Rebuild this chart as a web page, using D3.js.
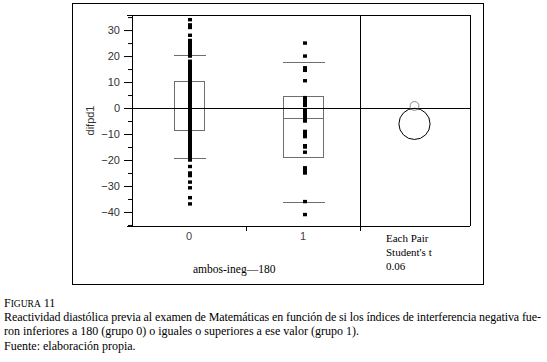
<!DOCTYPE html>
<html>
<head>
<meta charset="utf-8">
<style>
  body { margin: 0; background: #fff; }
  .tick text { font-family: "Liberation Sans", Arial, sans-serif; }
  .serif { font-family: "Liberation Serif", "Times New Roman", serif; fill: #000; }
</style>
</head>
<body>
<svg class="chart"></svg>
<script src="https://d3js.org/d3.v7.min.js"></script>
<script>
// data
const groups = ["0", "1"];
const group0 = [34, 32, 31, 28, 26, 25, 24, 23, 22, 21, 20, 18, 17, 16, 15, 14, 13, 12, 11,
  10, 9, 8, 7, 6, 5, 4, 3, 2, 1, 0, -1, -2, -3, -4, -5, -6, -7, -8, -9, -10, -11, -12,
  -13, -14, -15, -16, -17, -18, -19, -20, -22.5, -25, -26, -28.5, -30.7, -34.5, -36.9];
const group1 = [25, 20, 15.5, 14.5, 10.5, 4, 3, 2, 1, -1, -2, -3, -4, -5, -9, -10, -11,
  -14.5, -15, -17, -23, -24, -25, -36, -41];
const q3 = [10.3, 4.5];
const medians = [0, -4];
const q1 = [-8.7, -19.1];
const whiskerHi = [20.5, 17.6];
const whiskerLo = [-19.2, -36];
const means = [0.8, -6.1];
const circleRadius = [1.7, 6.0];   // in difpd1 units
const yMajor = [-40, -30, -20, -10, 0, 10, 20, 30];
const yMinor = [-45, -35, -25, -15, -5, 5, 15, 25, 35];
const testLines = ["Each Pair", "Student's t", "0.06"];
const captionLines = [
  "Reactividad diastólica previa al examen de Matemáticas en función de si los índices de interferencia negativa fue-",
  "ron inferiores a 180 (grupo 0) o iguales o superiores a ese valor (grupo 1)."
];

const W = 547, H = 362;
const plot = { left: 132, right: 470, top: 15, bottom: 226, split: 360 };
const boxW = [30, 40];
const grey = "#6e6e6e";

const svg = d3.select(".chart").attr("width", W).attr("height", H);

// outer frame
svg.append("rect")
  .attr("x", 72.5).attr("y", 3.5).attr("width", 411).attr("height", 281)
  .attr("fill", "none").attr("stroke", "#000");

const y = d3.scaleLinear().domain([-45.4, 35.8]).range([plot.bottom, plot.top]);
const x = d3.scaleBand().domain(groups).range([plot.left, plot.split]);
const cx = g => x(g) + x.bandwidth() / 2;

// axes
svg.append("g")
  .attr("transform", `translate(${plot.left},0)`)
  .call(d3.axisLeft(y).tickValues(yMinor).tickSize(4).tickSizeOuter(0).tickFormat(""))
  .call(g => g.select(".domain").remove());
const yAx = svg.append("g")
  .attr("transform", `translate(${plot.left},0)`)
  .call(d3.axisLeft(y).tickValues(yMajor).tickSize(8).tickSizeOuter(0).tickPadding(4));
yAx.selectAll("text").attr("font-size", 11).attr("fill", "#333");
yAx.select(".domain").attr("d", `M0.5,${plot.top}V${plot.bottom}`);

const xAx = svg.append("g")
  .attr("transform", `translate(0,${plot.bottom})`)
  .call(d3.axisBottom(x).tickSize(0).tickPadding(6));
xAx.select(".domain").remove();
xAx.selectAll("text").attr("font-size", 11).attr("fill", "#444");

// frame lines of the plot
svg.append("line").attr("x1", 127).attr("x2", plot.right)
  .attr("y1", plot.bottom + 0.5).attr("y2", plot.bottom + 0.5).attr("stroke", "#000");
svg.append("line").attr("x1", 127).attr("x2", plot.right)
  .attr("y1", plot.top + 0.5).attr("y2", plot.top + 0.5).attr("stroke", "#000");
svg.append("line").attr("x1", plot.right + 0.5).attr("x2", plot.right + 0.5)
  .attr("y1", plot.top).attr("y2", plot.bottom).attr("stroke", "#000");
svg.append("line").attr("x1", plot.split + 0.5).attr("x2", plot.split + 0.5)
  .attr("y1", plot.top).attr("y2", plot.bottom + 5).attr("stroke", "#000");
svg.append("line").attr("x1", x("1") + 0.5).attr("x2", x("1") + 0.5)
  .attr("y1", plot.bottom).attr("y2", plot.bottom + 5).attr("stroke", "#000");

// box plots
groups.forEach((g, i) => {
  const c = cx(g), hw = boxW[i] / 2;
  const bg = svg.append("g").attr("fill", "none").attr("stroke", grey);
  bg.append("rect")
    .attr("x", Math.round(c - hw) + 0.5).attr("y", Math.round(y(q3[i])) + 0.5)
    .attr("width", boxW[i]).attr("height", Math.round(y(q1[i]) - y(q3[i])));
  bg.append("line")
    .attr("x1", c - hw).attr("x2", c + hw)
    .attr("y1", Math.round(y(medians[i])) + 0.5).attr("y2", Math.round(y(medians[i])) + 0.5);
  [whiskerHi[i], whiskerLo[i]].forEach(v => bg.append("line")
    .attr("x1", c - hw).attr("x2", c + hw + 2)
    .attr("y1", Math.round(y(v)) + 0.5).attr("y2", Math.round(y(v)) + 0.5));
});

// points
[group0, group1].forEach((vals, i) => {
  const c = cx(groups[i]) + (i === 0 ? 1 : 2);
  svg.append("g").selectAll("rect")
    .data(vals)
    .join("rect")
    .attr("x", c - 2).attr("y", d => y(d) - 1.7)
    .attr("width", 4).attr("height", 3.4)
    .attr("fill", "#000");
});

// zero reference line
svg.append("line").attr("x1", plot.left).attr("x2", plot.right)
  .attr("y1", Math.round(y(0)) + 0.5).attr("y2", Math.round(y(0)) + 0.5)
  .attr("stroke", "#000");

// comparison circles
const ccx = (plot.split + plot.right) / 2 - 0.5;
svg.append("g").selectAll("circle")
  .data(means)
  .join("circle")
  .attr("cx", ccx)
  .attr("cy", d => y(d))
  .attr("r", (d, i) => y(0) - y(circleRadius[i]))
  .attr("fill", "none")
  .attr("stroke", (d, i) => i === 0 ? "#888" : "#000");

// texts
svg.append("text")
  .attr("transform", `translate(94,${(plot.top + plot.bottom) / 2}) rotate(-90)`)
  .attr("text-anchor", "middle").attr("font-size", 11)
  .style("font-family", "Liberation Sans, Arial, sans-serif").attr("fill", "#333")
  .text("difpd1");

svg.append("text").attr("class", "serif")
  .attr("x", 193).attr("y", 273).attr("font-size", 11.5)
  .text("ambos-ineg\u2014180");

svg.append("g").selectAll("text")
  .data(testLines)
  .join("text").attr("class", "serif")
  .attr("x", 386).attr("y", (d, i) => 242 + i * 14).attr("font-size", 11)
  .text(d => d);

// caption
const cap = svg.append("g");
const fig = cap.append("text").attr("class", "serif").attr("x", 4).attr("y", 307).attr("font-size", 12);
fig.append("tspan").text("F");
fig.append("tspan").attr("font-size", 9.5).text("IGURA");
fig.append("tspan").text(" 11");
cap.selectAll("text.line")
  .data(captionLines)
  .join("text").attr("class", "serif line")
  .attr("x", 4).attr("y", (d, i) => 321 + i * 13.5).attr("font-size", 12)
  .attr("textLength", (d, i) => i === 0 ? 537 : null)
  .attr("lengthAdjust", "spacing")
  .text(d => d);
cap.append("text").attr("class", "serif")
  .attr("x", 4).attr("y", 350).attr("font-size", 12)
  .text("Fuente: elaboración propia.");
</script>
</body>
</html>
